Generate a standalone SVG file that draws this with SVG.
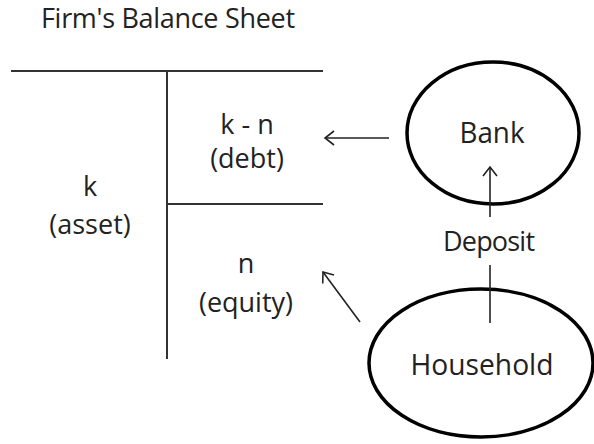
<svg xmlns="http://www.w3.org/2000/svg" width="594" height="444" viewBox="0 0 594 444">
<defs>
<style>
text{font-family:"Open Sans","Noto Sans","Liberation Sans",sans-serif;font-size:27px;fill:#222;text-anchor:middle}
.big{font-size:29px}
.sheet{stroke:#333;stroke-width:2;fill:none}
.conn{stroke:#222;stroke-width:1.6;fill:none}
.node{stroke:#000;stroke-width:3.5;fill:none}
</style>
<marker id="open" viewBox="0 0 12 16" refX="10" refY="8" markerWidth="12" markerHeight="16" markerUnits="userSpaceOnUse" orient="auto">
<path d="M1,1 L10,8 L1,15" fill="none" stroke="#222" stroke-width="1.6"/>
</marker>
</defs>
<rect width="594" height="444" fill="#fff"/>
<g id="title"><text x="168" y="28" font-size="25" textLength="254">Firm's Balance Sheet</text></g>
<g id="balance-sheet">
<line class="sheet" x1="11" y1="71" x2="323" y2="71"/>
<line class="sheet" x1="167" y1="71" x2="167" y2="359"/>
<line class="sheet" x1="167" y1="204" x2="323" y2="204"/>
</g>
<g id="asset"><text x="90" y="196">k</text><text x="90" y="234">(asset)</text></g>
<g id="debt"><text x="247" y="134">k - n</text><text x="247" y="168">(debt)</text></g>
<g id="equity"><text x="246" y="273">n</text><text x="246" y="312">(equity)</text></g>
<g id="bank"><ellipse class="node" cx="493" cy="133" rx="86" ry="71"/><text class="big" x="492" y="143" textLength="65" lengthAdjust="spacingAndGlyphs">Bank</text></g>
<g id="household"><ellipse class="node" cx="481" cy="363" rx="112" ry="74"/><text class="big" x="482" y="375" textLength="143" lengthAdjust="spacingAndGlyphs">Household</text></g>
<g id="connectors">
<line class="conn" x1="389" y1="138" x2="325" y2="138" marker-end="url(#open)"/>
<line class="conn" x1="360" y1="322" x2="323" y2="272" marker-end="url(#open)"/>
<line class="conn" x1="490" y1="323" x2="490" y2="265"/>
<line class="conn" x1="490" y1="217" x2="490" y2="167" marker-end="url(#open)"/>
<text x="489" y="251" textLength="92">Deposit</text>
</g>
</svg>
